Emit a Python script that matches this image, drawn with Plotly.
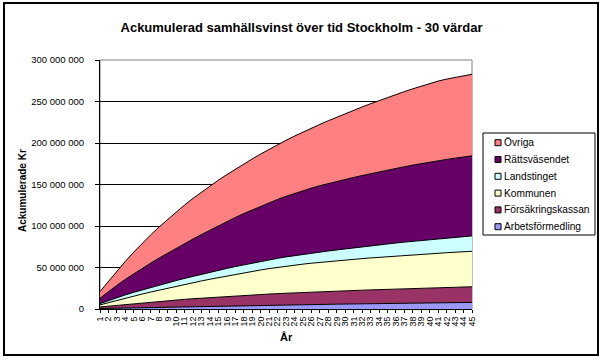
import plotly.graph_objects as go

# ---- data (miljoner kr) ----
years = list(range(1, 46))
year_labels = [str(y) for y in years]

arbetsformedling = [0.6, 0.82, 1.04, 1.26, 1.48, 1.7, 1.92, 2.14, 2.36, 2.58,
                    2.76, 2.94, 3.12, 3.3, 3.48, 3.66, 3.84, 4.02, 4.2, 4.38,
                    4.54, 4.7, 4.86, 5.02, 5.18, 5.34, 5.5, 5.66, 5.82, 5.98,
                    6.11, 6.24, 6.37, 6.5, 6.63, 6.76, 6.89, 7.02, 7.15, 7.28,
                    7.41, 7.54, 7.67, 7.8, 7.93]
forsakringskassan = [1.9, 2.68, 3.46, 4.24, 4.97, 5.7, 6.38, 7.06, 7.69, 8.27,
                     8.87, 9.44, 9.98, 10.5, 11.0, 11.47, 11.91, 12.33, 12.73, 13.11,
                     13.49, 13.85, 14.19, 14.51, 14.81, 15.09, 15.35, 15.59, 15.81, 16.01,
                     16.22, 16.43, 16.64, 16.84, 17.04, 17.24, 17.43, 17.62, 17.81, 17.99,
                     18.17, 18.35, 18.52, 18.69, 18.86]
kommunen = [2.5, 4.3, 6.0, 7.6, 9.15, 10.65, 12.15, 13.6, 15.05, 16.5,
            17.92, 19.32, 20.7, 22.05, 23.37, 24.67, 25.95, 27.2, 28.42, 29.56,
            30.62, 31.6, 32.5, 33.32, 34.06, 34.72, 35.35, 35.95, 36.52, 37.06,
            37.57, 38.05, 38.51, 38.96, 39.39, 39.8, 40.2, 40.58, 40.94, 41.29,
            41.62, 41.93, 42.23, 42.51, 42.77]
landstinget = [1.5, 2.4, 3.2, 3.9, 4.5, 5.05, 5.55, 6.0, 6.4, 6.85,
               7.3, 7.75, 8.15, 8.5, 8.8, 9.1, 9.4, 9.7, 10.0, 10.3,
               10.6, 10.9, 11.2, 11.5, 11.8, 12.1, 12.4, 12.7, 13.0, 13.4,
               13.85, 14.28, 14.68, 15.05, 15.39, 15.73, 16.06, 16.38, 16.7, 17.01,
               17.32, 17.62, 17.92, 18.22, 18.51]
rattsvasendet = [6.5, 10.8, 14.9, 18.8, 22.5, 26.0, 29.4, 32.7, 35.9, 39.0,
                 42.0, 44.9, 47.8, 50.7, 53.6, 56.45, 59.15, 61.7, 64.1, 66.4,
                 68.7, 71.0, 73.0, 74.9, 76.7, 78.4, 79.95, 81.35, 82.6, 83.7,
                 84.75, 85.8, 86.85, 87.9, 88.9, 89.87, 90.82, 91.75, 92.6, 93.38,
                 94.08, 94.76, 95.36, 95.93, 96.48]
ovriga = [8.0, 12.5, 17.2, 21.7, 26.0, 30.1, 33.9, 37.4, 40.7, 43.7,
          46.45, 48.95, 51.15, 53.15, 54.95, 56.55, 58.15, 59.75, 61.35, 62.95,
          64.45, 65.85, 67.45, 69.05, 70.65, 72.25, 73.85, 75.55, 77.35, 79.15,
          80.9, 82.6, 84.25, 85.85, 87.45, 89.0, 90.5, 91.95, 93.4, 94.85,
          96.0, 96.8, 97.4, 97.85, 98.25]

series_names = ["Arbetsförmedling", "Försäkringskassan", "Kommunen",
                "Landstinget", "Rättsväsendet", "Övriga"]
series_values = [arbetsformedling, forsakringskassan, kommunen,
                 landstinget, rattsvasendet, ovriga]
series_colors = ["#9999FF", "#993366", "#FFFFCC", "#CCFFFF", "#660066", "#FF8080"]

y_ticks = [0, 50e6, 100e6, 150e6, 200e6, 250e6, 300e6]

FONT = "Liberation Sans, Arial, sans-serif"

fig = go.Figure()
for name, vals, col in zip(series_names, series_values, series_colors):
    fig.add_trace(go.Scatter(
        x=years, y=[v * 1e6 for v in vals], name=name,
        mode="lines", stackgroup="one",
        line=dict(color="black", width=1),
        fillcolor=col, showlegend=False,
    ))

# plot area geometry (pixels)
L, R, T, B = 100, 133, 60, 51
W, H = 605, 360
pw, ph = W - L - R, H - T - B

def px_x(x):
    return (x - L) / pw

def px_y(y):
    return (H - B - y) / ph

shapes = []
# gray plot-area frame
shapes.append(dict(type="rect", xref="paper", yref="paper", x0=0, x1=1, y0=0, y1=1,
                   line=dict(color="#808080", width=1), layer="below"))
# outer chart border
shapes.append(dict(type="rect", xref="paper", yref="paper",
                   x0=px_x(4), x1=px_x(598), y0=px_y(355), y1=px_y(3),
                   line=dict(color="black", width=2)))
# legend box
shapes.append(dict(type="rect", xref="paper", yref="paper",
                   x0=px_x(483), x1=px_x(595), y0=px_y(235), y1=px_y(133),
                   line=dict(color="black", width=1), fillcolor="white"))

annotations = []
leg_y = [142.7, 159.5, 176.3, 193.1, 209.9, 226.7]
for i, (name, col) in enumerate(zip(reversed(series_names), reversed(series_colors))):
    yy = px_y(leg_y[i])
    shapes.append(dict(type="rect", xref="paper", yref="paper",
                       xsizemode="pixel", ysizemode="pixel",
                       xanchor=px_x(498), yanchor=yy,
                       x0=-3, x1=3, y0=-3, y1=3,
                       line=dict(color="black", width=1), fillcolor=col))
    annotations.append(dict(xref="paper", yref="paper", x=px_x(502), y=yy,
                            xanchor="left", yanchor="middle", showarrow=False,
                            text=name, font=dict(family=FONT, size=10.2, color="black")))

annotations.append(dict(xref="paper", yref="paper", x=px_x(22), y=px_y(191),
                        textangle=-90, showarrow=False, xanchor="center", yanchor="middle",
                        text="<b>Ackumulerade Kr</b>",
                        font=dict(family=FONT, size=10, color="black")))
annotations.append(dict(xref="paper", yref="paper", x=px_x(286), y=px_y(337),
                        showarrow=False, xanchor="center", yanchor="middle",
                        text="<b>År</b>",
                        font=dict(family=FONT, size=11, color="black")))

fig.update_layout(
    width=W, height=H,
    margin=dict(l=L, r=R, t=T, b=B, pad=0),
    paper_bgcolor="white", plot_bgcolor="white",
    separators=", ",
    title=dict(text="<b>Ackumulerad samhällsvinst över tid Stockholm - 30 värdar</b>",
               x=301.5 / W, y=1 - 27.5 / H, xref="container", yref="container",
               xanchor="center", yanchor="middle",
               font=dict(family=FONT, size=13, color="black")),
    shapes=shapes, annotations=annotations,
    xaxis=dict(range=[1, 45], tickmode="array", tickvals=years, ticktext=year_labels,
               tickangle=-90, ticks="outside", ticklen=3, tickcolor="black",
               showline=True, linecolor="black", linewidth=1,
               showgrid=False, zeroline=False,
               tickfont=dict(family=FONT, size=9, color="black")),
    yaxis=dict(range=[0, 300e6], tickmode="array", tickvals=y_ticks,
               tickformat=",.0f", ticks="outside", ticklen=4, tickcolor="black",
               showline=True, linecolor="black", linewidth=1,
               showgrid=True, gridcolor="black", gridwidth=1, zeroline=False,
               ticklabelstandoff=9,
               tickfont=dict(family=FONT, size=9.5, color="black")),
    hovermode=False,
)

fig.write_html("out.html",
               config={"displayModeBar": False, "staticPlot": True},
               post_script="document.body.style.margin='0';document.body.style.overflow='hidden';")
